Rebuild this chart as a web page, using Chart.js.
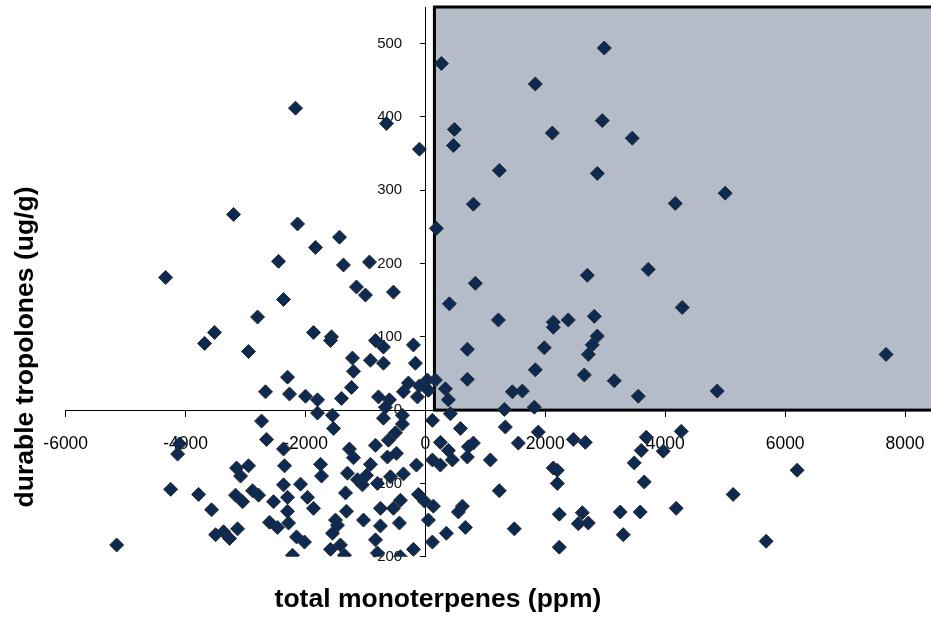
<!DOCTYPE html>
<html><head><meta charset="utf-8">
<script src="https://cdn.jsdelivr.net/npm/chart.js@4.4.1/dist/chart.umd.min.js"></script>
<style>html,body{margin:0;padding:0;background:#fff}#wrap{width:931px;height:618px}</style>
</head><body><div id="wrap"><canvas id="c" width="931" height="618"></canvas></div>
<script>
// total monoterpenes (ppm)
const xValues = [
-4333,-3683,-3517,-2800,-2950,-3200,-2450,-2367,-2133,-2167,-1833,-1433,-1367,-933,-1150,-1000,-533,-1867,-1567,-650,
-100,-833,-700,-200,-700,-167,-917,-1217,-1200,-1583,-1233,-2300,-2667,-2267,-2000,-1800,-1400,-783,-600,-667,
-283,-100,33,-367,-133,50,-1800,-1550,-1533,-700,-2733,-2650,-2367,-1267,-1200,-833,-383,-383,-500,-617,
-4133,-4100,-4250,-3783,-3567,-5150,-3150,-2950,-3083,-2350,-1750,-1733,-1300,-1133,-1050,-917,-983,-3167,-3050,-2883,
-2783,-2367,-2083,-2300,-1967,-2533,-1867,-2300,-1333,-1317,-1033,-1500,-1467,-2600,-2467,-2283,-3500,-3367,-3267,-3133,
-2150,-2017,-2217,-1550,-1583,-1417,-1350,-833,-800,-633,-483,-367,-583,-800,-117,-17,-417,-533,-750,50,
-433,-750,117,-200,-417,-150,117,417,117,583,250,383,717,800,700,450,250,1083,1333,1550,
1233,1483,133,617,550,667,350,1883,2467,2667,2133,2200,2200,2233,2617,2550,2717,3250,3583,4183,
3300,2233,3683,3600,3967,4267,3483,3650,6200,5133,5683,2983,267,1833,483,2950,2117,3450,467,1233,
2867,5000,4167,800,183,3717,2700,833,400,4283,1217,2133,2133,2383,2817,2867,2783,2717,700,1983,
1833,2650,3150,700,7683,167,333,383,1450,1617,1317,1817,3550,4867
];
// durable tropolones (ug/g)
const yValues = [
181,91,106,127,80,267,203,151,254,412,222,236,198,202,168,157,161,106,100,391,
356,95,86,89,64,64,68,71,53,95,31,45,25,22,19,14,16,18,14,4,
37,33,41,25,18,27,-4,-7,-25,-11,-15,-40,-53,-53,-65,-48,-7,-19,-31,-41,
-60,-46,-108,-115,-136,-184,-79,-76,-90,-76,-74,-90,-86,-95,-102,-74,-89,-116,-125,-110,
-116,-102,-101,-119,-119,-125,-134,-138,-113,-138,-150,-150,-157,-153,-160,-154,-170,-166,-175,-162,
-173,-180,-198,-168,-190,-184,-198,-177,-195,-64,-59,-87,-91,-100,-115,-124,-123,-134,-134,-150,
-154,-158,-180,-190,-200,-75,-68,-5,-14,-25,-44,-55,-50,-45,-64,-68,-75,-68,-23,-45,
-110,-162,-131,-131,-139,-160,-168,-30,-40,-44,-79,-82,-100,-142,-140,-155,-154,-139,-139,-134,
-170,-187,-37,-55,-56,-29,-72,-98,-82,-115,-179,494,473,445,383,395,378,371,361,327,
323,296,282,281,248,192,184,173,145,140,123,120,113,123,128,101,89,76,83,85,
55,48,40,42,76,41,29,14,25,26,1,4,19,26
];
const xTicks = [-6000,-4000,-2000,0,2000,4000,6000,8000];
const yTicks = [-200,-100,0,100,200,300,400,500];
const xTitle = 'total monoterpenes (ppm)';
const yTitle = 'durable tropolones (ug/g)';
const xMin = -6000, xMax = 8433, yMin = -200, yMax = 550;
const shadeFromX = 150, shadeFromY = 0;

const FONT = '"Liberation Sans", Arial, Helvetica, sans-serif';
const points = xValues.map((x, i) => ({x: x, y: yValues[i]}));
const noPad = s => { s.paddingLeft = 0; s.paddingRight = 0; s.paddingTop = 0; s.paddingBottom = 0; };
const fixedTicks = list => s => { s.ticks = list.map(v => ({value: v})); };

const shadePlugin = {
  id: 'shade',
  beforeDatasetsDraw(chart) {
    const {ctx, scales} = chart;
    const l = scales.x.getPixelForValue(shadeFromX);
    const t = scales.y.getPixelForValue(yMax);
    const b = scales.y.getPixelForValue(shadeFromY);
    const r = chart.width + 10;
    ctx.save();
    ctx.fillStyle = 'rgb(179,188,200)';
    ctx.fillRect(l, t, r - l, b - t);
    ctx.strokeStyle = '#000';
    ctx.lineWidth = 3;
    ctx.strokeRect(l, t, r - l, b - t);
    ctx.restore();
  }
};

const titlePlugin = {
  id: 'axisTitles',
  afterDraw(chart) {
    const ctx = chart.ctx;
    ctx.save();
    ctx.fillStyle = '#000';
    ctx.font = 'bold 26.5px ' + FONT;
    ctx.textAlign = 'center';
    ctx.textBaseline = 'alphabetic';
    ctx.fillText(xTitle, 438, 607);
    ctx.translate(33, 347);
    ctx.rotate(-Math.PI / 2);
    ctx.fillText(yTitle, 0, 0);
    ctx.restore();
  }
};

new Chart(document.getElementById('c'), {
  type: 'scatter',
  data: {
    datasets: [{
      data: points,
      pointStyle: 'rectRot',
      pointRadius: 7,
      pointHoverRadius: 7,
      backgroundColor: '#0d2b52',
      borderColor: '#2a2a2a',
      borderWidth: 1
    }]
  },
  options: {
    responsive: false,
    devicePixelRatio: 1,
    animation: false,
    layout: {autoPadding: false, padding: {left: 65.7, right: 0, top: 7, bottom: 61.3}},
    plugins: {legend: {display: false}, tooltip: {enabled: false}},
    scales: {
      x: {
        type: 'linear', min: xMin, max: xMax,
        position: {y: 0},
        afterBuildTicks: fixedTicks(xTicks),
        afterFit: noPad,
        ticks: {display: false},
        grid: {drawOnChartArea: false, drawTicks: true, tickLength: 6, color: '#000', lineWidth: 1},
        border: {display: true, color: '#000', width: 1}
      },
      xl: {
        axis: 'x', type: 'linear', min: xMin, max: xMax,
        position: {y: -32},
        afterBuildTicks: fixedTicks(xTicks),
        afterFit: noPad,
        ticks: {callback: v => String(v), font: {family: FONT, size: 17.5}, color: '#000', padding: 0, autoSkip: false, maxRotation: 0},
        grid: {display: false, drawTicks: false},
        border: {display: false}
      },
      y: {
        type: 'linear', min: yMin, max: yMax,
        position: {x: 0},
        afterBuildTicks: fixedTicks(yTicks),
        afterFit: noPad,
        ticks: {display: false},
        grid: {drawOnChartArea: false, drawTicks: true, tickLength: 5, color: '#000', lineWidth: 1},
        border: {display: true, color: '#000', width: 1}
      },
      yl: {
        axis: 'y', type: 'linear', min: yMin, max: yMax,
        position: {x: -388},
        afterBuildTicks: fixedTicks(yTicks),
        afterFit: noPad,
        ticks: {callback: v => String(v), font: {family: FONT, size: 15}, color: '#111', padding: 0},
        grid: {display: false, drawTicks: false},
        border: {display: false}
      }
    }
  },
  plugins: [shadePlugin, titlePlugin]
});
</script>
</body></html>
